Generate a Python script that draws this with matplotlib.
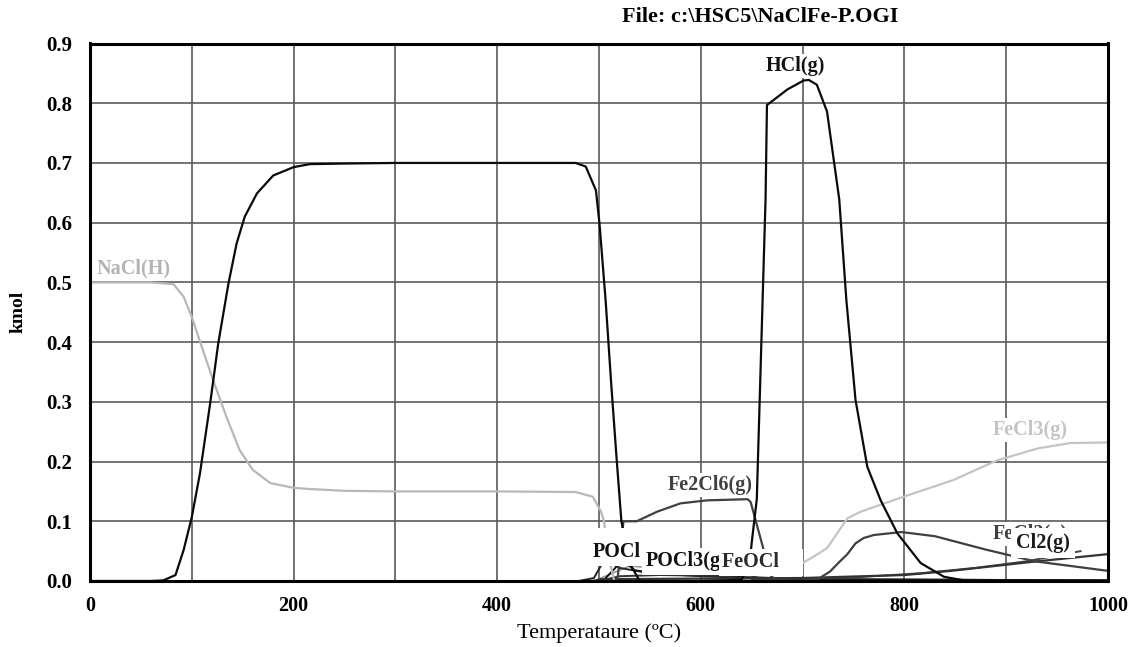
import matplotlib
matplotlib.use("Agg")
import matplotlib.pyplot as plt

plt.rcParams['font.family'] = ['Liberation Serif', 'DejaVu Serif']

# ---- data (temperature in degC, amount in kmol) ----
black_T = [0, 60, 72, 84, 92, 100, 108, 118, 126, 136, 144, 152, 164, 180, 200, 216, 250, 300,
           400, 477, 487, 497, 500.5, 506.5, 512, 517.5, 522, 530, 540, 1000]
black_v = [0, 0, 0.001, 0.01, 0.052, 0.107, 0.18, 0.297, 0.398, 0.498, 0.565, 0.61, 0.649, 0.679,
           0.693, 0.698, 0.699, 0.7, 0.7, 0.7, 0.694, 0.654, 0.598, 0.47, 0.33, 0.2, 0.1, 0.03, 0, 0]

nacl_T = [0, 59, 82, 92, 100, 111, 121, 134, 147, 160, 177, 200, 216, 250, 300, 400, 477, 494,
          502, 505, 508, 515]
nacl_v = [0.5, 0.5, 0.497, 0.476, 0.442, 0.386, 0.336, 0.275, 0.219, 0.186, 0.164, 0.156, 0.154,
          0.151, 0.15, 0.15, 0.149, 0.141, 0.116, 0.1, 0.05, 0]

hcl_T = [600, 640, 648, 650, 655, 663.6, 665, 672, 685, 701, 706, 714, 724, 736, 743, 752, 763.6,
         776.7, 793, 816, 839, 862, 1000]
hcl_v = [0, 0.002, 0.03, 0.064, 0.137, 0.639, 0.797, 0.806, 0.823, 0.838, 0.839, 0.831, 0.786,
         0.639, 0.47, 0.303, 0.191, 0.135, 0.08, 0.03, 0.007, 0, 0]

fe2cl6_T = [518, 524, 537, 557, 580, 606, 646, 649, 660.5, 668, 675, 1000]
fe2cl6_v = [0, 0.1, 0.1, 0.116, 0.13, 0.135, 0.137, 0.132, 0.06, 0.01, 0, 0]

fecl3_T = [700, 711, 724, 734, 744, 757, 799, 848, 891, 931, 963, 1000]
fecl3_v = [0.03, 0.041, 0.055, 0.08, 0.105, 0.116, 0.141, 0.169, 0.202, 0.222, 0.231, 0.232]

fecl2_T = [700, 715, 727, 735, 744, 752, 760, 770, 797, 830, 879, 928, 1000]
fecl2_v = [0.001, 0.003, 0.016, 0.03, 0.045, 0.063, 0.072, 0.077, 0.082, 0.075, 0.053, 0.033, 0.017]

cl2_T = [500, 600, 700, 800, 846, 925, 1000]
cl2_v = [0.003, 0.004, 0.005, 0.01, 0.017, 0.032, 0.045]

other_T = [650, 750, 816, 870, 920, 973]
other_v = [0.002, 0.006, 0.013, 0.022, 0.033, 0.05]

pocl_T = [480, 495, 500, 505, 512, 520, 540, 560, 600, 650, 700, 1000]
pocl_v = [0, 0.005, 0.02, 0.035, 0.03, 0.022, 0.016, 0.012, 0.008, 0.005, 0.003, 0.001]

pocl3_T = [490, 505, 515, 522, 528, 535, 550, 580, 620, 660, 700, 1000]
pocl3_v = [0, 0.002, 0.02, 0.035, 0.028, 0.018, 0.014, 0.011, 0.008, 0.005, 0.003, 0.001]

feocl_T = [500, 520, 560, 600, 630, 645, 652, 660, 670, 1000]
feocl_v = [0, 0.008, 0.01, 0.009, 0.008, 0.012, 0.008, 0.002, 0, 0]

minor_T = [495, 530, 570, 620, 680, 750]
minor_v = [0, 0.025, 0.02, 0.012, 0.004, 0.001]

x_ticks = [0, 200, 400, 600, 800, 1000]
y_ticks = [0.0, 0.1, 0.2, 0.3, 0.4, 0.5, 0.6, 0.7, 0.8, 0.9]

fig = plt.figure(figsize=(11.34, 6.47), dpi=100)
ax = fig.add_axes([90 / 1134, 1 - 581 / 647, 1018 / 1134, 537.5 / 647])
ax.set_xlim(0, 1000)
ax.set_ylim(0, 0.9)

ax.set_yticks(y_ticks)
ax.grid(True, color='#5a5a5a', lw=1.2, zorder=0)
ax.set_axisbelow(True)
ax.set_xticks(range(0, 1001, 100))
ax.set_xticklabels([str(t) if t in x_ticks else '' for t in range(0, 1001, 100)],
                   fontsize=14.5, fontweight='bold')
ax.set_yticklabels([f"{v:.1f}" for v in y_ticks], fontsize=15, fontweight='bold')
ax.tick_params(axis='both', length=0)
ax.tick_params(axis='x', pad=11)
ax.tick_params(axis='y', pad=13)
for s in ax.spines.values():
    s.set_linewidth(2.2)
    s.set_color('black')
    s.set_zorder(10)

lw = 1.6
ax.plot(minor_T, minor_v, color='#999999', lw=1.2, zorder=2)
ax.plot(pocl_T, pocl_v, color='#222222', lw=1.4, zorder=2)
ax.plot(pocl3_T, pocl3_v, color='#111111', lw=1.4, zorder=2)
ax.plot(feocl_T, feocl_v, color='#333333', lw=1.4, zorder=2)
ax.plot(other_T, other_v, color='#444444', lw=1.4, zorder=2)
ax.plot(cl2_T, cl2_v, color='#333333', lw=lw, zorder=2)
ax.plot(fecl2_T, fecl2_v, color='#404040', lw=lw, zorder=2)
ax.plot(fecl3_T, fecl3_v, color='#c4c4c4', lw=lw, zorder=2)
ax.plot(nacl_T, nacl_v, color='#b8b8b8', lw=lw, zorder=3)
ax.plot(fe2cl6_T, fe2cl6_v, color='#404040', lw=lw, zorder=3)
ax.plot(black_T, black_v, color='#0a0a0a', lw=lw, zorder=4)
ax.plot(hcl_T, hcl_v, color='#0a0a0a', lw=lw, zorder=4)


def label(x, y, s, color, ha='left', pad=1.5, z=6):
    ax.text(x, y, s, color=color, fontsize=14.5, fontweight='bold', ha=ha, va='center',
            zorder=z, bbox=dict(facecolor='white', edgecolor='none', pad=pad))


label(6, 0.523, 'NaCl(H)', '#b4b4b4')
label(693, 0.863, 'HCl(g)', '#111111', ha='center')
label(609, 0.161, 'Fe2Cl6(g)', '#404040', ha='center')
# white background of a label hidden behind "POCl"
label(498, 0.066, '          ', '#333333', pad=2.5, z=5)
label(494, 0.048, 'POCl', '#111111', pad=2.5, z=6)
label(546, 0.033, 'POCl3(g)', '#111111', pad=2.5, z=7)
label(621, 0.031, 'FeOCl    ', '#2a2a2a', pad=2.5, z=8)
label(887, 0.2525, 'FeCl3(g)', '#c4c4c4')
label(887, 0.078, 'FeCl2(g)', '#404040', z=6)
label(910, 0.064, 'Cl2(g)', '#1a1a1a', z=7, pad=3.8)

ax.set_xlabel('Temperataure (ºC)', fontsize=16, labelpad=5)
ax.set_ylabel('kmol', fontsize=14, fontweight='bold', labelpad=14)
fig.text(760 / 1134, 1 - 17 / 647, 'File: c:\\HSC5\\NaClFe-P.OGI', fontsize=16,
         fontweight='bold', ha='center', va='center')

fig.savefig('out.png', dpi=100)
